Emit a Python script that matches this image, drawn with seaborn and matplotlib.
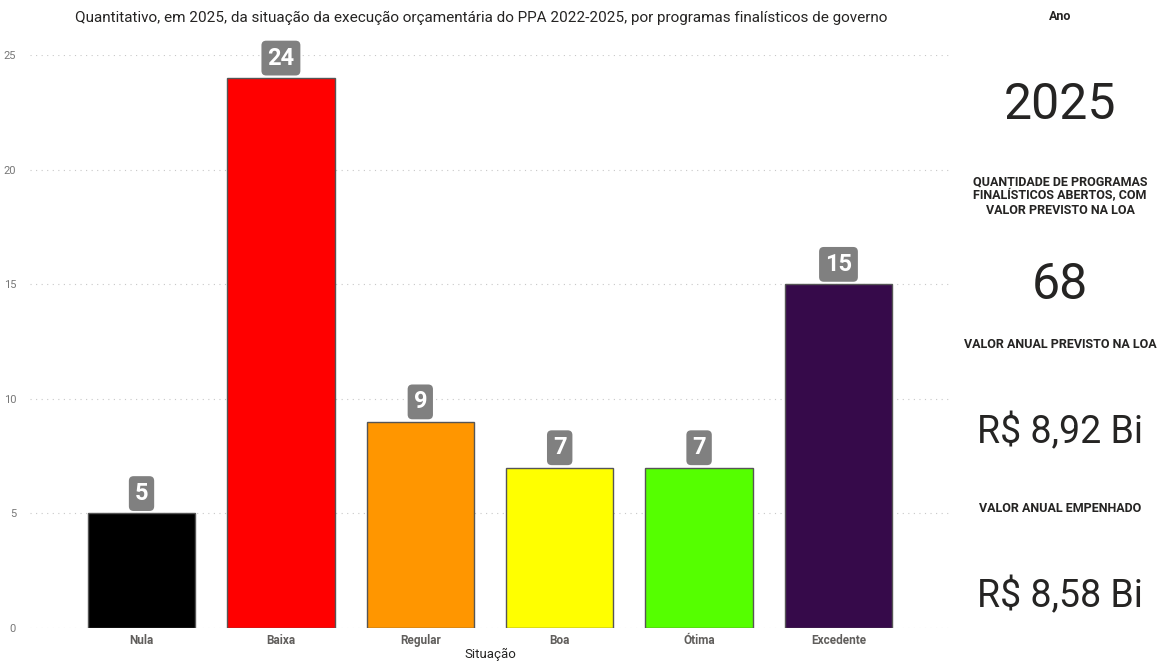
import pandas as pd
import seaborn as sns
import matplotlib.pyplot as plt

situacoes = ["Nula", "Baixa", "Regular", "Boa", "Ótima", "Excedente"]
quantidades = [5, 24, 9, 7, 7, 15]
cores = ["#000000", "#FF0000", "#FF9600", "#FFFF00", "#55FF00", "#360A4A"]

ano = "2025"
qtd_programas = "68"
valor_previsto = "R$ 8,92 Bi"
valor_empenhado = "R$ 8,58 Bi"

sns.set_style("white")
plt.rcParams['font.family'] = ['Roboto', 'DejaVu Sans']

df = pd.DataFrame({"Situação": situacoes, "Quantidade": quantidades})

fig = plt.figure(figsize=(11.6, 6.61), dpi=100)
ax = fig.add_axes([30 / 1160, 33 / 661, 920 / 1160, 573 / 661])

sns.barplot(data=df, x="Situação", y="Quantidade", hue="Situação", palette=cores,
            order=situacoes, hue_order=situacoes, width=0.77, legend=False, saturation=1,
            edgecolor="#555555", linewidth=1, ax=ax, zorder=3)

ax.set_xlim(-0.8, 5.8)
ax.set_ylim(0, 25)
ax.set_yticks(range(0, 26, 5))
for y in range(0, 26, 5):
    ax.axhline(y, color="#c8c8c8", linestyle=(0, (1, 4)), linewidth=0.8, zorder=0)
for s in ax.spines.values():
    s.set_visible(False)
ax.tick_params(axis="y", length=0, labelsize=8, labelcolor="#777777", pad=10)
ax.tick_params(axis="x", length=0, labelsize=8.5, labelcolor="#605E5C", pad=4)
for lbl in ax.get_xticklabels():
    lbl.set_fontweight("bold")
ax.set_xlabel("")
ax.set_ylabel("")
# titulo do eixo x posicionado à mão para não ser cortado
fig.text(490 / 1160, 1 - 654 / 661, "Situação",
         ha="center", va="center", fontsize=9.5, color="#252423")

for i, v in enumerate(quantidades):
    ax.annotate(str(v), (i, v), xytext=(0, 6), textcoords="offset points",
                ha="center", va="bottom", fontsize=17, fontweight="bold", color="white",
                bbox=dict(boxstyle="round,pad=0.25,rounding_size=0.2", fc="#808080", ec="none"),
                annotation_clip=False, zorder=5)

fig.text(481 / 1160, 1 - 18 / 661,
         "Quantitativo, em 2025, da situação da execução orçamentária do PPA 2022-2025, por programas finalísticos de governo",
         ha="center", va="center", fontsize=11, color="#252423")

cx = 1060 / 1160
def painel(y, txt, size, bold=False):
    fig.text(cx, 1 - y / 661, txt, ha="center", va="center", fontsize=size,
             fontweight="bold" if bold else "normal", color="#252423", linespacing=1.1)

painel(17, "Ano", 9, True)
painel(105, ano, 36)
painel(196, "QUANTIDADE DE PROGRAMAS\nFINALÍSTICOS ABERTOS, COM\nVALOR PREVISTO NA LOA", 9, True)
painel(285, qtd_programas, 36)
painel(345, "VALOR ANUAL PREVISTO NA LOA", 9, True)
painel(432, valor_previsto, 27)
painel(509, "VALOR ANUAL EMPENHADO", 9, True)
painel(596, valor_empenhado, 27)

fig.savefig("out.png", dpi=100)
